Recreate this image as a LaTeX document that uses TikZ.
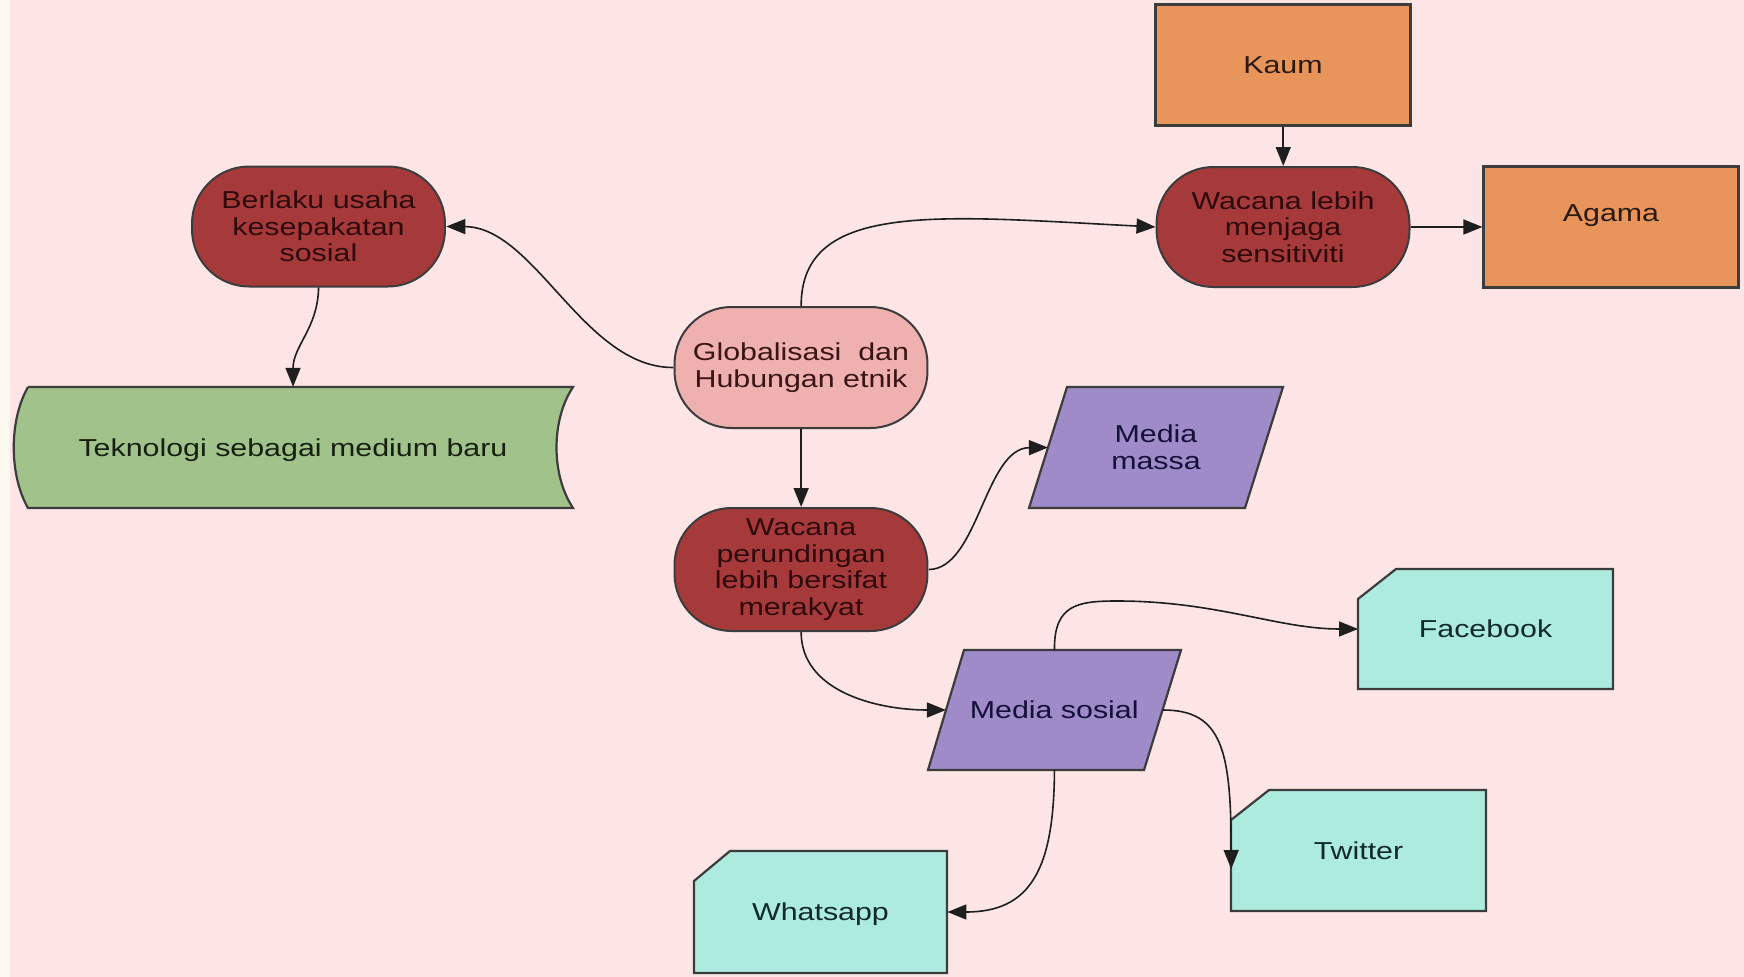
\documentclass[tikz,border=0pt]{standalone}
\usepackage{fontspec}
\setmainfont{Liberation Sans}
\usetikzlibrary{arrows.meta,calc}
\definecolor{bg}{HTML}{FDE5E6}
\definecolor{strip}{HTML}{FCF9F1}
\definecolor{dred}{HTML}{A63A3B}
\definecolor{dredtxt}{HTML}{2E0A0A}
\definecolor{pinkn}{HTML}{EFB0B0}
\definecolor{pinktxt}{HTML}{3A1515}
\definecolor{orangen}{HTML}{E8955C}
\definecolor{orangetxt}{HTML}{2A1A10}
\definecolor{purplen}{HTML}{9E8BC8}
\definecolor{purpletxt}{HTML}{15103A}
\definecolor{tealn}{HTML}{AEEBDF}
\definecolor{tealtxt}{HTML}{102A2A}
\definecolor{greenn}{HTML}{A2C28C}
\definecolor{greentxt}{HTML}{15200F}
\definecolor{edgec}{HTML}{3C3C3C}
\definecolor{wirec}{HTML}{1E1E1E}
\begin{document}
\begin{tikzpicture}[x=0.806452pt,y=-1pt,xscale=1.24,
  every node/.style={transform shape, font=\fontsize{24.5}{26.7}\selectfont, align=center, inner sep=0pt},
  oval/.style={draw=edgec, line width=2pt, rectangle, rounded corners=57pt, minimum width=204pt, minimum height=120pt, fill=dred, text=dredtxt},
  rectbox/.style={draw=edgec, line width=2.2pt, rectangle, minimum width=205.6pt, minimum height=121pt, fill=orangen, text=orangetxt},
  shapeline/.style={draw=edgec, line width=2.2pt, line join=miter},
  txtonly/.style={draw=none, minimum height=121pt},
  wire/.style={draw=wirec, line width=1.6pt, -{Triangle[length=19pt,width=15pt]}}]
\useasboundingbox (0,0) rectangle (1744,977);
\fill[bg] (0,0) rectangle (1744,977);
\fill[strip] (0,0) rectangle (10,977);

% drawn shapes
\draw[shapeline, fill=greenn] (28,387) -- (573,387) .. controls (551,420) and (551,475) .. (573,508) -- (28,508) .. controls (9,475) and (9,420) .. cycle;
\draw[shapeline, fill=purplen] (1067,387) -- (1283,387) -- (1245,508) -- (1029,508) -- cycle;
\draw[shapeline, fill=purplen] (964,650) -- (1181,650) -- (1144,770) -- (928,770) -- cycle;
\draw[shapeline, fill=tealn] (1396,569) -- (1613,569) -- (1613,689) -- (1358,689) -- (1358,599) -- cycle;
\draw[shapeline, fill=tealn] (1269,790) -- (1486,790) -- (1486,911) -- (1231,911) -- (1231,820) -- cycle;
\draw[shapeline, fill=tealn] (730,851) -- (947,851) -- (947,973) -- (694,973) -- (694,881) -- cycle;

% nodes
\node[rectbox] (kaum) at (1283,65) {Kaum};
\node[rectbox, text height=18pt, text depth=30pt] (agama) at (1611,227) {Agama};
\node[oval] (sens) at (1283,227) {Wacana lebih\\menjaga\\sensitiviti};
\node[oval] (berl) at (318.5,226.5) {Berlaku usaha\\kesepakatan\\sosial};
\node[oval, fill=pinkn, text=pinktxt, minimum height=121pt] (glob) at (801,367.5) {Globalisasi\ \ dan\\Hubungan etnik};
\node[oval, minimum height=123pt] (perund) at (801,569.5) {Wacana\\perundingan\\lebih bersifat\\merakyat};
\node[txtonly, minimum width=451.6pt, text=greentxt, text depth=0pt] (tek) at (293,447.5) {Teknologi sebagai medium baru};
\node[txtonly, minimum width=174.2pt, text=purpletxt] (mm) at (1156,447.5) {Media\\massa};
\node[txtonly, minimum width=174.6pt, minimum height=120pt, text=purpletxt] (ms) at (1054.25,710) {Media sosial};
\node[txtonly, minimum width=205.6pt, minimum height=120pt, text=tealtxt] (fb) at (1485.5,629) {Facebook};
\node[txtonly, minimum width=205.6pt, text=tealtxt] (tw) at (1358.5,850.5) {Twitter};
\node[txtonly, minimum width=204pt, minimum height=122pt, text=tealtxt, text depth=0pt] (wa) at (820.5,912) {Whatsapp};
\coordinate (twin) at (1231,869);

% connectors
\draw[wire] (kaum.south) -- (sens.north);
\draw[wire] (sens.east) -- (agama.west);
\draw[wire] (glob.north) .. controls (801,200) and (940,216) .. (sens.west);
\draw[wire] (glob.west) .. controls (584,368) and (535,227) .. (berl.east);
\draw[wire] (berl.south) .. controls (318,328) and (293,346) .. (tek.north);
\draw[wire] (glob.south) -- (perund.north);
\draw[wire] (perund.east) .. controls (978,569) and (985,448) .. (mm.west);
\draw[wire] (perund.south) .. controls (801,691) and (876,710) .. (ms.west);
\draw[wire] (ms.north) .. controls (1054,605) and (1077,601) .. (1117,601) .. controls (1217,601) and (1278,629) .. (fb.west);
\draw[wire] (ms.east) .. controls (1222,710) and (1231,750) .. (twin);
\draw[wire] (ms.south) .. controls (1054,870) and (1030,912) .. (wa.east);
\end{tikzpicture}
\end{document}
